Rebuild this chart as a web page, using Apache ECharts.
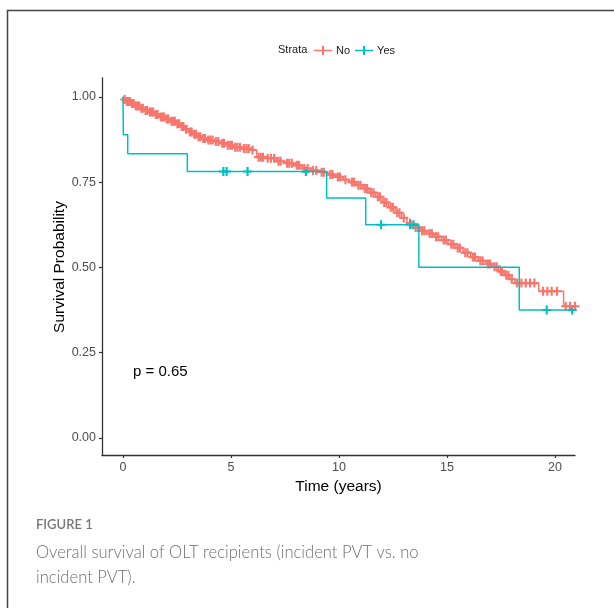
<!DOCTYPE html>
<html>
<head>
<meta charset="utf-8">
<script src="https://cdn.jsdelivr.net/npm/echarts@6/dist/echarts.min.js"></script>
<style>
  html, body { margin: 0; padding: 0; background: #fff; }
  #main { width: 614px; height: 608px; }
</style>
</head>
<body>
<div id="main"></div>
<script>
// Kaplan-Meier steps (time in years, survival probability)
const noTimes = [0, 0.05, 0.15, 0.35, 0.55, 0.8, 1.0, 1.2, 1.45, 1.7, 1.95, 2.2, 2.45, 2.65, 2.85, 3.05, 3.25, 3.45, 3.65, 3.9, 4.2, 4.5, 4.8, 5.1, 5.5, 5.9, 6.2, 6.6, 7.1, 7.5, 7.9, 8.3, 8.7, 9.1, 9.5, 9.85, 10.2, 10.5, 10.8, 11.1, 11.4, 11.7, 12.0, 12.3, 12.6, 12.9, 13.15, 13.45, 13.75, 14.05, 14.4, 14.75, 15.05, 15.4, 15.75, 16.1, 16.45, 16.8, 17.1, 17.4, 17.65, 17.9, 18.15, 19.25, 20.4, 20.93]
const noSurv = [1.0, 0.992, 0.986, 0.98, 0.973, 0.966, 0.96, 0.955, 0.948, 0.941, 0.935, 0.928, 0.921, 0.913, 0.905, 0.897, 0.89, 0.883, 0.878, 0.873, 0.869, 0.864, 0.858, 0.852, 0.848, 0.844, 0.823, 0.82, 0.811, 0.805, 0.799, 0.79, 0.784, 0.779, 0.772, 0.765, 0.757, 0.75, 0.741, 0.731, 0.719, 0.707, 0.69, 0.676, 0.66, 0.645, 0.63, 0.617, 0.607, 0.599, 0.59, 0.58, 0.568, 0.557, 0.543, 0.53, 0.519, 0.51, 0.502, 0.488, 0.477, 0.465, 0.454, 0.43, 0.386, 0.386]
const noCensor = [0.08, 0.18, 0.25, 0.32, 0.42, 0.5, 0.6, 0.68, 0.75, 0.85, 0.92, 1.05, 1.12, 1.25, 1.32, 1.4, 1.52, 1.6, 1.75, 1.82, 1.9, 2.02, 2.1, 2.25, 2.32, 2.4, 2.52, 2.6, 2.72, 2.8, 2.92, 3.1, 3.18, 3.3, 3.38, 3.5, 3.58, 3.72, 3.8, 3.95, 4.05, 4.15, 4.3, 4.42, 4.6, 4.68, 4.85, 4.95, 5.05, 5.2, 5.3, 5.42, 5.6, 5.72, 5.82, 6.0, 6.28, 6.38, 6.48, 6.7, 6.85, 7.0, 7.2, 7.3, 7.6, 7.7, 7.82, 8.05, 8.15, 8.4, 8.55, 8.8, 8.95, 9.2, 9.3, 9.6, 9.7, 9.95, 10.05, 10.3, 10.6, 10.7, 10.9, 11.0, 11.2, 11.3, 11.5, 11.6, 11.8, 11.9, 12.1, 12.2, 12.4, 12.5, 12.7, 12.8, 13.0, 13.3, 13.55, 13.65, 13.85, 13.95, 14.2, 14.3, 14.5, 14.6, 14.85, 14.95, 15.2, 15.3, 15.5, 15.6, 15.85, 15.95, 16.2, 16.3, 16.55, 16.65, 16.9, 17.0, 17.2, 17.3, 17.5, 17.55, 17.75, 17.85, 18.0, 18.25, 18.45, 18.65, 18.85, 19.05, 19.45, 19.65, 19.85, 20.1, 20.5, 20.7, 20.93]

const yesTimes = [0, 0.02, 0.22, 2.98, 9.43, 11.24, 13.7, 18.35, 20.8]
const yesSurv = [1.0, 0.889, 0.833, 0.781, 0.703, 0.625, 0.5, 0.375, 0.375]
const yesCensor = [4.65, 4.8, 5.77, 8.47, 11.95, 13.3, 13.45, 19.62, 20.8]

const xTicks = [0, 5, 10, 15, 20]
const yTicks = [0, 0.25, 0.5, 0.75, 1]

const red = '#F8766D'
const teal = '#00BFC4'
const font = '"Liberation Sans", Arial, sans-serif'
const plus = 'path://M3.8,0h2.4v3.8h3.8v2.4h-3.8v3.8h-2.4v-3.8h-3.8v-2.4h3.8z'
const legendIcon = 'path://M0,3.8h18v1.4h-18z M8,0h2v9h-2z'

const stepAt = function (times, vals, t) {
    let v = vals[0]
    times.forEach((x, i) => { if (x <= t) v = vals[i] })
    return v
}
const pairs = (xs, ys) => xs.map((x, i) => [x, ys[i]])
const marks = (cs, times, vals) => cs.map(t => [t, stepAt(times, vals, t)])

const axisLine = { show: true, onZero: false, lineStyle: { color: '#333', width: 1.3 } }
const axisTick = { show: true, length: 3, lineStyle: { color: '#333', width: 1.2 } }

const chart = echarts.init(document.getElementById('main'), null, { renderer: 'canvas' })
chart.setOption({
    animation: false,
    textStyle: { fontFamily: font },
    grid: { left: 102, right: 39, top: 78, bottom: 153, containLabel: false },
    legend: {
        data: ['No', 'Yes'],
        left: 314,
        top: 45,
        padding: 0,
        itemWidth: 18,
        itemHeight: 9,
        itemGap: 5,
        icon: legendIcon,
        textStyle: { fontFamily: font, fontSize: 11, color: '#1a1a1a', padding: [0, 0, 0, -1] }
    },
    xAxis: {
        type: 'value',
        min: -0.97,
        max: 20.93,
        name: 'Time (years)',
        nameLocation: 'middle',
        nameGap: 23,
        nameTextStyle: { fontFamily: font, fontSize: 15.5, color: '#000' },
        axisLine,
        axisTick: { ...axisTick, customValues: xTicks },
        axisLabel: { customValues: xTicks, margin: 6, fontSize: 12.5, color: '#4d4d4d', fontFamily: font },
        splitLine: { show: false }
    },
    yAxis: {
        type: 'value',
        min: -0.05,
        max: 1.055,
        axisLine,
        axisTick: { ...axisTick, customValues: yTicks },
        axisLabel: { customValues: yTicks, margin: 6, fontSize: 12.5, color: '#4d4d4d', fontFamily: font,
            formatter: v => v.toFixed(2) },
        splitLine: { show: false }
    },
    graphic: [
        { type: 'rect', silent: true, shape: { x: 7.5, y: 10.5, width: 640, height: 640 },
          style: { fill: 'none', stroke: '#444', lineWidth: 1.5 } },
        { type: 'text', x: 60, y: 267, rotation: Math.PI / 2,
          style: { text: 'Survival Probability', font: '15.5px ' + font, fill: '#000', align: 'center', verticalAlign: 'middle' } },
        { type: 'text', left: 278, top: 44, style: { text: 'Strata', font: '11px ' + font, fill: '#1a1a1a' } },
        { type: 'text', left: 133, top: 364, style: { text: 'p = 0.65', font: '15px ' + font, fill: '#000' } },
        { type: 'text', left: 36, top: 518, style: { text: 'FIGURE 1', font: '600 13px Lato, "Open Sans", sans-serif', fill: '#777' } },
        { type: 'text', left: 36, top: 540, style: {
            text: 'Overall survival of OLT recipients (incident PVT vs. no\nincident PVT).',
            font: '300 16.6px Lato, "Open Sans", sans-serif', fill: '#6f6f6f', lineHeight: 25 } }
    ],
    series: [
        {
            name: 'No', type: 'line', step: 'end', showSymbol: false,
            data: pairs(noTimes, noSurv),
            lineStyle: { color: red, width: 1.5 }, itemStyle: { color: red }
        },
        {
            name: 'Yes', type: 'line', step: 'end', showSymbol: false,
            data: pairs(yesTimes, yesSurv),
            lineStyle: { color: teal, width: 1.5 }, itemStyle: { color: teal }
        },
        {
            name: 'No censored', type: 'scatter', symbol: plus, symbolSize: 9,
            data: marks(noCensor, noTimes, noSurv),
            itemStyle: { color: red, opacity: 1 }
        },
        {
            name: 'Yes censored', type: 'scatter', symbol: plus, symbolSize: 9,
            data: marks(yesCensor, yesTimes, yesSurv),
            itemStyle: { color: teal, opacity: 1 }
        }
    ]
})
</script>
</body>
</html>
